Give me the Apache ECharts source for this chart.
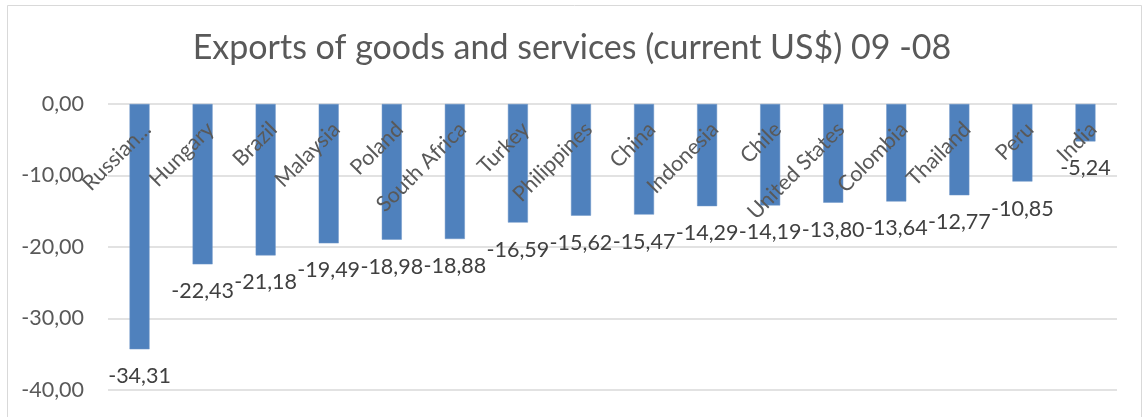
<!DOCTYPE html>
<html>
<head>
<meta charset="utf-8">
<script src="https://cdn.jsdelivr.net/npm/echarts@6/dist/echarts.min.js"></script>
<style>
  html, body { margin: 0; padding: 0; background: #fff; }
  #chart { width: 1144px; height: 417px; }
</style>
</head>
<body>
<div id="chart"></div>
<script>
// Change in exports of goods and services, 2009 vs 2008 (%)
const countries = ['Russian...', 'Hungary', 'Brazil', 'Malaysia', 'Poland', 'South Africa', 'Turkey',
  'Philippines', 'China', 'Indonesia', 'Chile', 'United States', 'Colombia', 'Thailand', 'Peru', 'India'];
const changes = [-34.31, -22.43, -21.18, -19.49, -18.98, -18.88, -16.59,
  -15.62, -15.47, -14.29, -14.19, -13.80, -13.64, -12.77, -10.85, -5.24];
const yTicks = { min: -40, max: 0, step: 10 };

const FONT = 'Lato, "Open Sans", sans-serif';
const fmt = v => v.toFixed(2).replace('.', ',');

const chart = echarts.init(document.getElementById('chart'), null, { renderer: 'canvas' });
chart.setOption({
  animation: false,
  backgroundColor: '#fff',
  title: {
    text: 'Exports of goods and services (current US$) 09 -08',
    left: 'center',
    top: 26,
    padding: [5, 5, 5, 17],
    textStyle: { fontFamily: FONT, fontSize: 34, fontWeight: 'normal', color: '#595959' }
  },
  graphic: [{
    type: 'rect',
    shape: { x: 7.5, y: 5.5, width: 1134, height: 430 },
    style: { fill: 'none', stroke: '#d9d9d9', lineWidth: 1 },
    silent: true
  }],
  grid: { left: 108, right: 27, top: 104, bottom: 27, containLabel: false, outerBoundsMode: 'none' },
  xAxis: {
    type: 'category',
    data: countries,
    // category names sit just under the zero line, inside the plot
    position: 'top',
    z: 10,
    axisLine: { show: false },
    axisTick: { show: false },
    axisLabel: {
      inside: true,
      interval: 0,
      rotate: 45,
      margin: 14,
      verticalAlign: 'top',
      fontFamily: FONT,
      fontSize: 21.5,
      color: '#595959',
      hideOverlap: false
    }
  },
  yAxis: {
    type: 'value',
    min: yTicks.min,
    max: yTicks.max,
    interval: yTicks.step,
    axisLine: { show: false },
    axisTick: { show: false },
    splitLine: { lineStyle: { color: '#d9d9d9', width: 1.5 } },
    axisLabel: {
      margin: 24,
      fontFamily: FONT,
      fontSize: 21.5,
      color: '#595959',
      formatter: v => fmt(v)
    }
  },
  series: [{
    type: 'bar',
    data: changes,
    barWidth: 20,
    itemStyle: { color: '#4f81bd', borderColor: '#6f97c8', borderWidth: 0.5 },
    label: {
      show: true,
      position: 'bottom',
      distance: 16,
      fontFamily: FONT,
      fontSize: 21.5,
      color: '#404040',
      formatter: p => fmt(p.value)
    }
  }]
});
</script>
</body>
</html>
